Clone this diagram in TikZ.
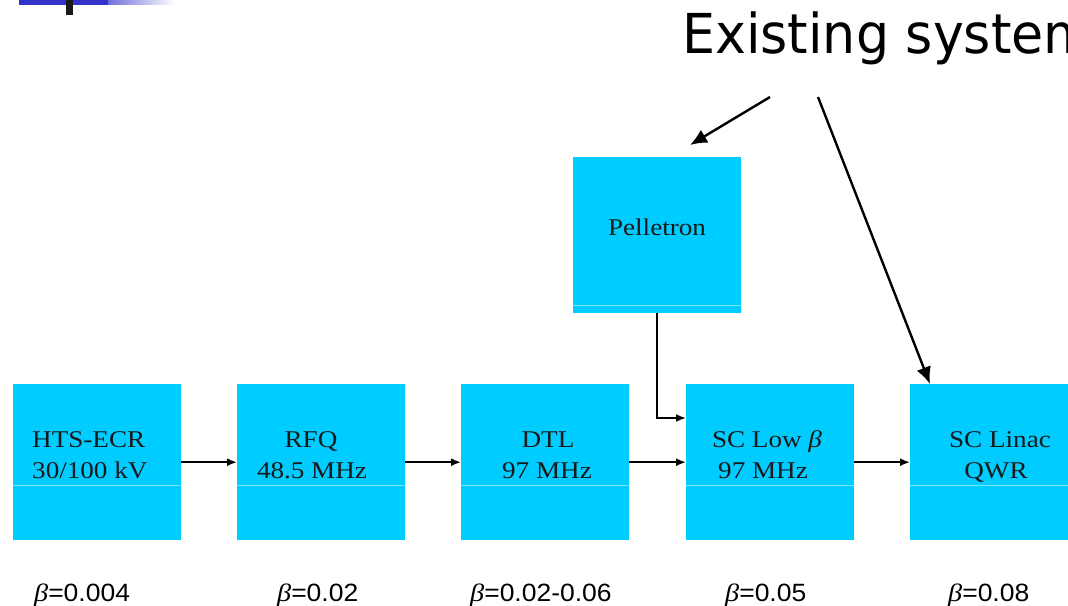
\documentclass[tikz,border=0pt]{standalone}
\usepackage{fontspec}
\setmainfont{Liberation Serif}[FakeStretch=1.13]
\newfontfamily\betafont{Liberation Sans}[FakeStretch=1.06]
\newfontfamily\titlefont{DejaVu Sans}[FakeStretch=0.95]
\usetikzlibrary{arrows.meta}
\definecolor{boxcyan}{RGB}{0,204,255}
\definecolor{divcol}{RGB}{120,228,255}
\definecolor{topblue}{RGB}{51,51,204}
\begin{document}
\begin{tikzpicture}[x=1pt,y=-1pt,
  blk/.style={fill=boxcyan, draw=none, minimum width=168pt, minimum height=156pt, inner sep=0pt, anchor=north west},
  divider/.style={draw=divcol, line width=0.8pt},
  lbl/.style={font=\fontsize{24}{30}\selectfont, inner sep=0pt, text=black!90},
  betalbl/.style={font=\betafont\fontsize{25}{30}\selectfont, inner sep=0pt, anchor=base west},
  flow/.style={line width=1.8pt, -{Latex[length=10pt,width=8pt]}},
  bigarrow/.style={line width=2.4pt, -{Latex[length=17pt,width=15pt]}}]
\useasboundingbox (0,0) rectangle (1068,605);
\clip (0,0) rectangle (1068,605);
% top-left decoration
\fill[topblue] (19,0) rectangle (108,5);
\shade[left color=topblue!70, right color=white] (108,0) rectangle (175,4);
\fill[black!90] (66,0) rectangle (73,15);
% title
\node[font=\titlefont\fontsize{55}{60}\selectfont, anchor=base west, inner sep=0pt] (title) at (682,53) {Existing system};
% boxes
\node[blk] (b1) at (13,384) {};
\node[blk] (b2) at (237,384) {};
\node[blk] (b3) at (461,384) {};
\node[blk] (b4) at (686,384) {};
\node[blk] (b5) at (910,384) {};
\node[blk] (p) at (573,157) {};
\foreach \b in {b1,b2,b3,b4,b5}{
  \draw[divider] ([yshift=-101pt]\b.north west) -- ([yshift=-101pt]\b.north east);
}
\draw[divider] ([yshift=8pt]p.south west) -- ([yshift=8pt]p.south east);
% labels
\node[lbl, anchor=base west] (l1a) at (32,447) {HTS-ECR};
\node[lbl, anchor=base west] (l1b) at (32,478) {30/100 kV};
\node[lbl, anchor=base] (l2a) at (311,447) {RFQ};
\node[lbl, anchor=base] (l2b) at (312,478) {48.5 MHz};
\node[lbl, anchor=base] (l3a) at (548,447) {DTL};
\node[lbl, anchor=base] (l3b) at (547,478) {97 MHz};
\node[lbl, anchor=base] (l4a) at (767,447) {SC Low \textit{β}};
\node[lbl, anchor=base] (l4b) at (763,478) {97 MHz};
\node[lbl, anchor=base] (l5a) at (1000,447) {SC Linac};
\node[lbl, anchor=base] (l5b) at (996,478) {QWR};
\node[lbl, anchor=base] (lp) at (657,235) {Pelletron};
% beta labels
\node[betalbl] (beta1) at (34,601) {{\rmfamily\itshape β}=0.004};
\node[betalbl] (beta2) at (277,601) {{\rmfamily\itshape β}=0.02};
\node[betalbl] (beta3) at (470,601) {{\rmfamily\itshape β}=0.02-0.06};
\node[betalbl] (beta4) at (725,601) {{\rmfamily\itshape β}=0.05};
\node[betalbl] (beta5) at (948,601) {{\rmfamily\itshape β}=0.08};
% connectors
\draw[flow] (b1.east) -- (b2.west);
\draw[flow] (b2.east) -- (b3.west);
\draw[flow] (b3.east) -- (b4.west);
\draw[flow] (b4.east) -- (b5.west);
\draw[flow] (p.south) |- ([yshift=-34pt]b4.north west);
% pointers from title
\coordinate (s1) at (770,97);
\coordinate (t1) at (690,145);
\coordinate (s2) at (818,97);
\draw[bigarrow] (s1) -- (t1);
\draw[bigarrow] (s2) -- ([xshift=20pt]b5.north west);
\end{tikzpicture}
\end{document}
